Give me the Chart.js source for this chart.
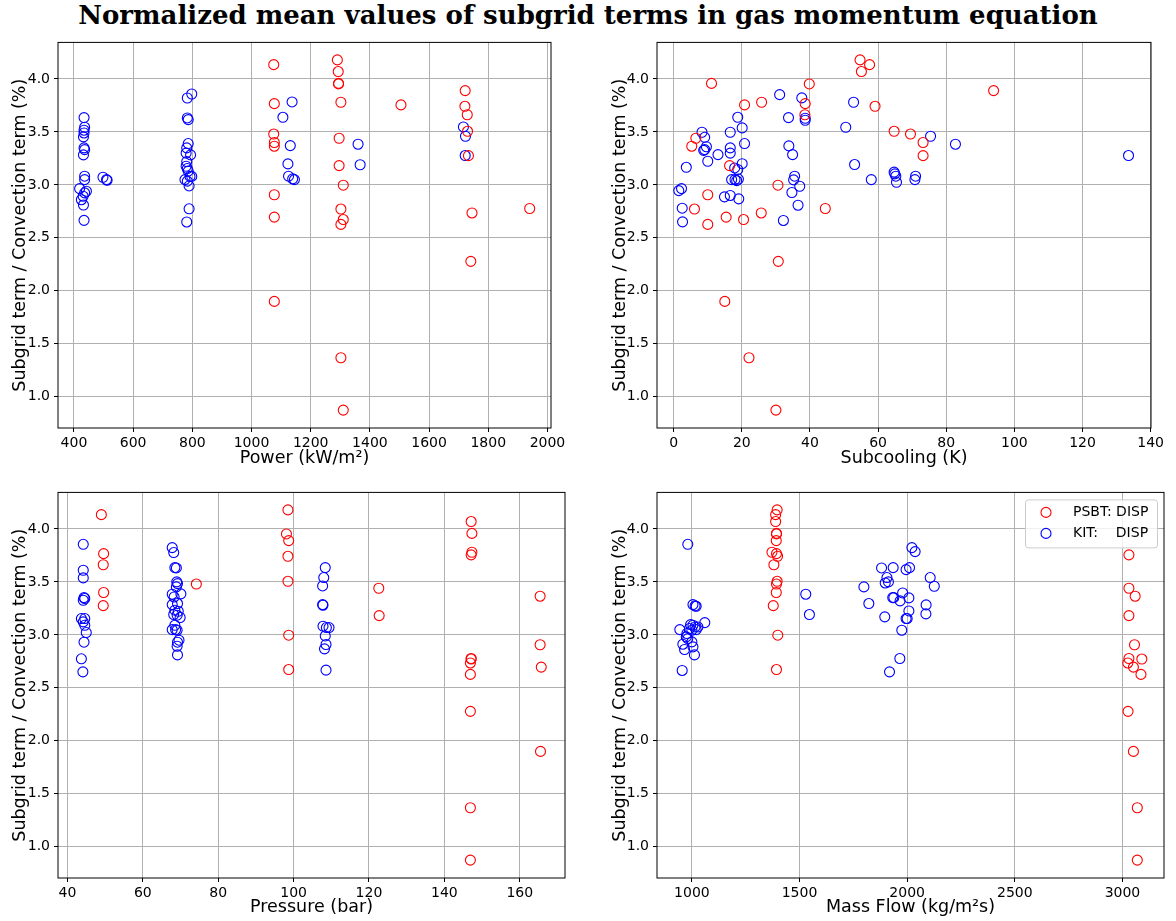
<!DOCTYPE html>
<html>
<head>
<meta charset="utf-8">
<script src="https://cdn.jsdelivr.net/npm/chart.js@4.4.1/dist/chart.umd.min.js"></script>
<style>
  body { margin: 0; background: #fff; width: 1176px; height: 921px; position: relative; overflow: hidden; }
  h1 { position: absolute; left: 0; top: 0; width: 1176px; margin: 0; text-align: center;
       font: bold 26px "DejaVu Serif", serif; line-height: 30px; color: #000; }
  canvas { position: absolute; }
</style>
</head>
<body>
<h1>Normalized mean values of subgrid terms in gas momentum equation</h1>
<canvas id="powerChart" width="580" height="442" style="left:0;top:30px"></canvas>
<canvas id="subcoolingChart" width="571" height="442" style="left:600px;top:30px"></canvas>
<canvas id="pressureChart" width="585" height="441" style="left:0;top:480px"></canvas>
<canvas id="massFlowChart" width="574" height="441" style="left:600px;top:480px"></canvas>
<script>
// PSBT cases: one y value per case, plotted against each parameter
const psbtY = [4.18, 4.135, 4.07, 3.958, 3.953, 3.89, 3.78, 3.767, 3.755, 3.742, 3.662, 3.506, 3.48, 3.44, 3.40,
  3.365, 3.276, 3.182, 2.997, 2.907, 2.777, 2.772, 2.735, 2.696, 2.673, 2.627, 2.278, 1.90, 1.368, 0.874];
const psbtPower = [1290, 1075, 1293, 1294, 1294, 1722, 1302, 1077, 1505, 1721, 1729, 1730, 1075, 1296, 1077,
  1077, 1733, 1296, 1310, 1077, 1940, 1302, 1745, 1077, 1310, 1302, 1741, 1077, 1302, 1310];
const psbtSubcooling = [54.7, 57.5, 55.1, 11.1, 39.8, 93.9, 25.8, 38.6, 20.8, 59.1, 38.5, 64.7, 69.5, 6.5, 73.2,
  5.3, 73.2, 16.4, 30.6, 10.0, 44.5, 6.1, 25.7, 15.4, 20.5, 10.0, 30.7, 15.0, 22.1, 30.0];
const psbtPressure = [98.5, 49.0, 147.1, 147.3, 98.1, 98.7, 147.3, 49.6, 147.1, 98.5, 49.5, 98.5, 74.2, 122.6, 49.6,
  165.4, 49.5, 122.7, 98.7, 165.4, 147.1, 147.1, 146.9, 165.7, 98.7, 146.9, 146.9, 165.5, 146.9, 146.9];
const psbtMassFlow = [1396, 1389, 1389, 1393, 1393, 1392, 1372, 1393, 3030, 1398, 1381, 1396, 1393, 3030, 1392,
  3059, 1378, 3030, 1399, 3056, 3030, 3090, 3025, 3051, 1393, 3086, 3026, 3051, 3069, 3069];

// KIT points, read per panel
const kitPowerX = [434, 436, 434, 434, 432, 434, 436, 432, 436, 436, 419, 442, 436, 431, 425, 432, 434, 498, 510, 512,
  798, 783, 783, 786, 786, 781, 779, 794, 781, 779, 783, 786, 775, 792, 798, 783, 789, 789, 781,
  1137, 1106, 1131, 1123, 1125, 1139, 1145, 1360, 1367, 1716, 1723, 1722];
const kitPowerY = [3.635, 3.544, 3.516, 3.49, 3.453, 3.349, 3.333, 3.283, 3.082, 3.05, 2.965, 2.94, 2.925, 2.893, 2.86, 2.81, 2.665, 3.072, 3.05, 3.044,
  3.858, 3.82, 3.632, 3.616, 3.39, 3.349, 3.30, 3.283, 3.22, 3.176, 3.154, 3.13, 3.05, 3.08, 3.08, 3.035, 2.99, 2.774, 2.65,
  3.783, 3.638, 3.371, 3.198, 3.082, 3.057, 3.05, 3.384, 3.19, 3.547, 3.459, 3.277];

const kitSubcoolingX = [1.5, 2.3, 2.5, 2.6, 3.7, 8.3, 9.1, 9.6, 9.1, 8.8, 10.0, 13.0, 14.9, 16.6, 16.6, 16.6, 16.6, 17.9,
  18.8, 17.0, 18.0, 19.0, 18.5, 19.1, 20.1, 18.8, 20.1, 20.8, 31.1, 32.2, 33.7, 33.8, 34.9, 34.7, 35.5, 35.2, 37.0,
  36.5, 37.6, 38.6, 38.6, 50.5, 52.8, 53.1, 58.0, 64.7, 64.9, 65.2, 65.4, 71.0, 70.8, 75.4, 82.7, 133.5];
const kitSubcoolingY = [2.946, 2.965, 2.78, 2.651, 3.166, 3.497, 3.449, 3.36, 3.333, 3.326, 3.223, 3.286, 2.887, 2.90, 3.349, 3.30, 3.497, 3.16,
  3.145, 3.05, 3.05, 3.055, 3.04, 2.868, 3.20, 3.638, 3.538, 3.39, 3.852, 2.664, 3.635, 3.368, 3.286, 2.928, 3.082, 3.047, 2.987,
  2.808, 3.821, 3.629, 3.61, 3.544, 3.78, 3.192, 3.05, 3.12, 3.104, 3.082, 3.025, 3.082, 3.05, 3.459, 3.384, 3.277];

const kitPressureX = [44.2, 44.2, 44.2, 44.4, 44.2, 44.6, 43.7, 44.6, 44.2, 44.6, 45.0, 44.4, 43.7, 44.1,
  67.8, 68.2, 68.5, 68.9, 69.0, 69.2, 68.9, 67.8, 70.1, 68.3, 69.2, 67.8, 68.5, 69.4, 68.2, 69.1, 69.9, 68.5, 67.8,
  68.7, 69.1, 69.6, 69.2, 69.1, 69.2,
  108.4, 108.0, 107.7, 107.7, 107.8, 107.8, 108.7, 109.4, 108.4, 108.6, 108.2, 108.6];
const kitPressureY = [3.855, 3.61, 3.538, 3.352, 3.327, 3.343, 3.154, 3.154, 3.123, 3.091, 3.022, 2.931, 2.774, 2.651,
  3.824, 3.777, 3.635, 3.632, 3.5, 3.484, 3.453, 3.384, 3.387, 3.358, 3.296, 3.286, 3.233, 3.223, 3.192, 3.186, 3.164, 3.091, 3.05,
  3.05, 3.044, 2.95, 2.931, 2.893, 2.811,
  3.635, 3.541, 3.462, 3.286, 3.28, 3.082, 3.069, 3.069, 2.99, 2.909, 2.868, 2.667];

const kitMassFlowX = [981, 1005, 1015, 1020, 1060, 944, 994, 1005, 1015, 1028, 989, 1000, 1020, 977, 974, 981, 1000, 958,
  1005, 966, 1012, 955, 1529, 1546,
  1799, 1822, 1881, 1906, 1898, 1913, 1896, 1935, 1938, 1933, 1967, 1979, 1975, 1966, 1918, 1995, 2011, 2008, 2008,
  1995, 2000, 2022, 2037, 2107, 2126, 2088, 2087];
const kitMassFlowY = [3.855, 3.286, 3.274, 3.27, 3.116, 3.05, 3.097, 3.091, 3.075, 3.075, 3.06, 3.044, 3.05, 3.013, 2.981, 2.965, 2.934, 2.912,
  2.887, 2.862, 2.811, 2.664, 3.384, 3.192,
  3.453, 3.296, 3.632, 3.541, 3.49, 3.5, 3.17, 3.635, 3.352, 3.352, 3.321, 3.396, 3.044, 2.777, 2.651, 3.616, 3.635, 3.349, 3.226,
  3.154, 3.154, 3.824, 3.786, 3.541, 3.459, 3.283, 3.198];

// axis ticks and ranges
const yTicks = [1.0, 1.5, 2.0, 2.5, 3.0, 3.5, 4.0];
const yRange = [0.705, 4.345];
const powerTicks = [400, 600, 800, 1000, 1200, 1400, 1600, 1800, 2000];
const powerRange = [346, 2012];
const subcoolingTicks = [0, 20, 40, 60, 80, 100, 120, 140];
const subcoolingRange = [-4.9, 140.1];
const pressureTicks = [40, 60, 80, 100, 120, 140, 160];
const pressureRange = [37.5, 172];
const massFlowTicks = [1000, 1500, 2000, 2500, 3000];
const massFlowRange = [838, 3193];

const seriesLabels = ['PSBT: DISP', 'KIT:    DISP'];
const seriesColors = ['#ff0000', '#0000ff'];

Chart.defaults.font.family = '"DejaVu Sans", sans-serif';
Chart.defaults.color = '#000';

const toPoints = (xs, ys) => xs.map((x, i) => ({ x: x, y: ys[i] }));

// black box round the plot area, like matplotlib spines
const framePlugin = {
  id: 'frame',
  afterDatasetsDraw(chart) {
    const { ctx, chartArea: a } = chart;
    ctx.save();
    ctx.strokeStyle = '#000';
    ctx.lineWidth = 1;
    ctx.strokeRect(a.left, a.top, a.right - a.left, a.bottom - a.top);
    ctx.restore();
  }
};

// legend drawn inside the plot area (upper right)
const insideLegend = {
  id: 'insideLegend',
  afterDraw(chart) {
    const { ctx, chartArea: a } = chart;
    const w = 132, h = 48;
    const left = a.right - 7 - w, top = a.top + 7;
    ctx.save();
    ctx.fillStyle = 'rgba(255,255,255,0.8)';
    ctx.strokeStyle = '#cccccc';
    ctx.lineWidth = 1;
    ctx.beginPath();
    ctx.roundRect(left + 0.5, top + 0.5, w, h, 3);
    ctx.fill();
    ctx.stroke();
    ctx.font = '14px "DejaVu Sans", sans-serif';
    ctx.textBaseline = 'middle';
    chart.data.datasets.forEach((ds, i) => {
      const y = top + 13 + i * 21;
      ctx.strokeStyle = ds.borderColor;
      ctx.lineWidth = 1.1;
      ctx.beginPath();
      ctx.arc(left + 21, y, 5, 0, Math.PI * 2);
      ctx.stroke();
      ctx.fillStyle = '#000';
      ctx.fillText(ds.label, left + 48, y);
    });
    ctx.restore();
  }
};

function makePanel(canvasId, cfg) {
  const ctx = document.getElementById(canvasId).getContext('2d');
  const datasets = [
    { label: seriesLabels[0], data: toPoints(cfg.psbtX, psbtY) },
    { label: seriesLabels[1], data: toPoints(cfg.kitX, cfg.kitY) }
  ].map((ds, i) => ({
    ...ds,
    borderColor: seriesColors[i],
    backgroundColor: 'rgba(0,0,0,0)',
    pointRadius: 5,
    pointBorderWidth: 1.1,
    pointStyle: 'circle'
  }));

  return new Chart(ctx, {
    type: 'scatter',
    data: { datasets },
    options: {
      responsive: false,
      animation: false,
      events: [],
      layout: { padding: { top: 12, right: cfg.padRight, left: 0, bottom: 0 } },
      plugins: { legend: { display: false }, tooltip: { enabled: false } },
      scales: {
        x: {
          type: 'linear',
          min: cfg.xRange[0],
          max: cfg.xRange[1],
          afterBuildTicks: (scale) => { scale.ticks = cfg.xTicks.map(v => ({ value: v })); },
          afterFit: (scale) => { scale.height = cfg.xHeight; },
          ticks: { font: { size: 14 }, color: '#000', padding: 3, maxRotation: 0, autoSkip: false,
                   callback: (v) => String(v) },
          grid: { color: '#b0b0b0', lineWidth: 1, tickColor: '#000', tickLength: 4 },
          border: { display: false },
          title: { display: true, text: cfg.xTitle, font: { size: 17.5 }, color: '#000',
                   padding: { top: 0, bottom: 3 } }
        },
        y: {
          type: 'linear',
          min: yRange[0],
          max: yRange[1],
          afterBuildTicks: (scale) => { scale.ticks = yTicks.map(v => ({ value: v })); },
          afterFit: (scale) => { scale.width = cfg.yWidth; },
          ticks: { font: { size: 14 }, color: '#000', padding: 4, autoSkip: false,
                   callback: (v) => v.toFixed(1) },
          grid: { color: '#b0b0b0', lineWidth: 1, tickColor: '#000', tickLength: 4 },
          border: { display: false },
          title: { display: true, text: 'Subgrid term / Convection term (%)', font: { size: 17.5 }, color: '#000',
                   padding: { top: 10, bottom: 0 } }
        }
      }
    },
    plugins: cfg.legend ? [framePlugin, insideLegend] : [framePlugin]
  });
}

makePanel('powerChart', {
  psbtX: psbtPower, kitX: kitPowerX, kitY: kitPowerY,
  xRange: powerRange, xTicks: powerTicks, xTitle: 'Power (kW/m²)',
  padRight: 29, yWidth: 58, xHeight: 44
});
makePanel('subcoolingChart', {
  psbtX: psbtSubcooling, kitX: kitSubcoolingX, kitY: kitSubcoolingY,
  xRange: subcoolingRange, xTicks: subcoolingTicks, xTitle: 'Subcooling (K)',
  padRight: 20, yWidth: 57, xHeight: 44
});
makePanel('pressureChart', {
  psbtX: psbtPressure, kitX: kitPressureX, kitY: kitPressureY,
  xRange: pressureRange, xTicks: pressureTicks, xTitle: 'Pressure (bar)',
  padRight: 20, yWidth: 58, xHeight: 43
});
makePanel('massFlowChart', {
  psbtX: psbtMassFlow, kitX: kitMassFlowX, kitY: kitMassFlowY,
  xRange: massFlowRange, xTicks: massFlowTicks, xTitle: 'Mass Flow (kg/m²s)',
  padRight: 10, yWidth: 57, xHeight: 43, legend: true
});
</script>
</body>
</html>
